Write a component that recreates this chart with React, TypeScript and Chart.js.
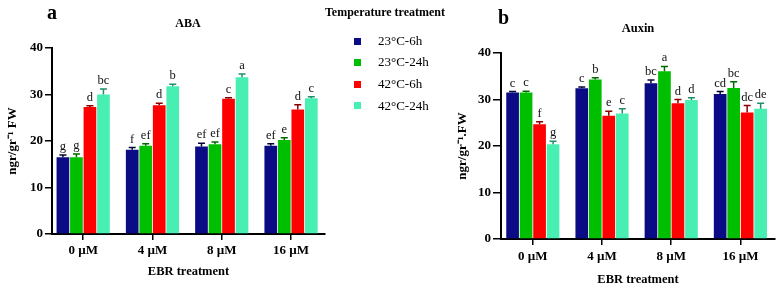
import React, { useEffect, useRef } from 'react';
import { Chart, registerables } from 'chart.js';

Chart.register(...registerables);

// ---------- data ----------
const doses = ['0 µM', '4 µM', '8 µM', '16 µM'];
const seriesNames = ['23°C-6h', '23°C-24h', '42°C-6h', '42°C-24h'];
const seriesColors = ['#0b0b85', '#00bf00', '#ff0000', '#48efb3'];
const errColors = ['#05053a', '#006a00', '#8a0000', '#1f8f6a'];

// ABA (ngr/gr-1 FW)
const aba23_6 = [16.5, 18.1, 18.8, 19.0];
const aba23_24 = [16.5, 19.0, 19.3, 20.2];
const aba42_6 = [27.3, 27.7, 29.1, 26.8];
const aba42_24 = [30.0, 31.8, 33.7, 29.2];
const abaErr23_6 = [0.5, 0.5, 0.7, 0.4];
const abaErr23_24 = [0.7, 0.4, 0.5, 0.5];
const abaErr42_6 = [0.3, 0.4, 0.2, 1.0];
const abaErr42_24 = [1.2, 0.4, 0.7, 0.3];
const abaLet23_6 = ['g', 'f', 'ef', 'ef'];
const abaLet23_24 = ['g', 'ef', 'ef', 'e'];
const abaLet42_6 = ['d', 'd', 'c', 'd'];
const abaLet42_24 = ['bc', 'b', 'a', 'c'];

// Auxin (ngr/gr-1.FW)
const aux23_6 = [31.5, 32.4, 33.5, 31.2];
const aux23_24 = [31.5, 34.3, 36.1, 32.5];
const aux42_6 = [24.7, 26.5, 29.2, 27.2];
const aux42_24 = [20.4, 27.0, 29.9, 28.0];
const auxErr23_6 = [0.2, 0.3, 0.7, 0.5];
const auxErr23_24 = [0.3, 0.4, 1.0, 1.3];
const auxErr42_6 = [0.5, 1.0, 0.8, 1.5];
const auxErr42_24 = [0.6, 1.0, 0.5, 1.2];
const auxLet23_6 = ['c', 'c', 'bc', 'cd'];
const auxLet23_24 = ['c', 'b', 'a', 'bc'];
const auxLet42_6 = ['f', 'e', 'd', 'dc'];
const auxLet42_24 = ['g', 'c', 'd', 'de'];

const yTicks = [0, 10, 20, 30, 40];

const SERIF = '"Liberation Serif", "Times New Roman", serif';

type PanelProps = {
  values: number[][];
  errors: number[][];
  letters: string[][];
  yTitle: string;
  width: number;
  height: number;
  yWidth: number;
  xHeight: number;
  padTop: number;
  padRight: number;
  xMin: number;
  xMax: number;
  yTitlePad: number;
  xTitlePad: number;
  xTickPad: number;
  yTickLen: number;
};

function makeErrPlugin(errors: number[][], letters: string[][]) {
  return {
    id: 'errLetters',
    afterDatasetsDraw(chart: any) {
      const ctx = chart.ctx;
      const ys = chart.scales.y;
      chart.data.datasets.forEach((ds: any, di: number) => {
        const meta = chart.getDatasetMeta(di);
        meta.data.forEach((bar: any, i: number) => {
          const v = ds.data[i].y;
          const top = ys.getPixelForValue(v + errors[di][i]);
          ctx.save();
          ctx.strokeStyle = errColors[di];
          ctx.lineWidth = 1.5;
          ctx.beginPath();
          ctx.moveTo(bar.x, bar.y);
          ctx.lineTo(bar.x, top);
          ctx.moveTo(bar.x - 3.5, top);
          ctx.lineTo(bar.x + 3.5, top);
          ctx.stroke();
          ctx.fillStyle = '#111';
          ctx.font = `12.5px ${SERIF}`;
          ctx.textAlign = 'center';
          ctx.textBaseline = 'alphabetic';
          ctx.fillText(letters[di][i], bar.x, top - 5);
          ctx.restore();
        });
      });
    },
  };
}

function Panel(p: PanelProps) {
  const ref = useRef<HTMLCanvasElement>(null);
  useEffect(() => {
    if (!ref.current) return;
    const tickFont = { family: SERIF, size: 13, weight: 'bold' as const };
    const chart = new Chart(ref.current, {
      type: 'bar',
      data: {
        datasets: seriesNames.map((name, si) => ({
          label: name,
          data: p.values[si].map((v, i) => ({ x: i, y: v })),
          backgroundColor: seriesColors[si],
          borderWidth: 0,
          categoryPercentage: 0.78,
          barPercentage: 0.94,
        })),
      },
      options: {
        animation: false,
        responsive: false,
        devicePixelRatio: 1,
        layout: { padding: { left: 0, right: p.padRight, top: p.padTop, bottom: 0 } },
        plugins: { legend: { display: false }, tooltip: { enabled: false }, title: { display: false } },
        scales: {
          x: {
            type: 'linear',
            min: p.xMin,
            max: p.xMax,
            offset: false,
            afterBuildTicks: (s: any) => {
              s.ticks = doses.map((_, i) => ({ value: i }));
            },
            afterFit: (s: any) => {
              s.height = p.xHeight;
            },
            ticks: {
              callback: (v: any) => doses[v as number] ?? '',
              font: tickFont,
              color: '#000',
              padding: p.xTickPad,
              autoSkip: false,
              maxRotation: 0,
            },
            grid: { drawOnChartArea: false, drawTicks: true, tickLength: 6, color: '#000', lineWidth: 1.5, offset: false },
            border: { display: true, color: '#000', width: 2 },
            title: {
              display: true,
              text: 'EBR treatment',
              color: '#000',
              font: { family: SERIF, size: 12.5, weight: 'bold' },
              padding: { top: 0, bottom: p.xTitlePad },
            },
          },
          y: {
            type: 'linear',
            min: 0,
            max: 40,
            afterBuildTicks: (s: any) => {
              s.ticks = yTicks.map((v) => ({ value: v }));
            },
            afterFit: (s: any) => {
              s.width = p.yWidth;
            },
            ticks: { font: tickFont, color: '#000', padding: 2 },
            grid: { drawOnChartArea: false, drawTicks: true, tickLength: p.yTickLen, color: '#000', lineWidth: 1.5 },
            border: { display: true, color: '#000', width: 2 },
            title: {
              display: true,
              text: p.yTitle,
              color: '#000',
              font: { family: SERIF, size: 13, weight: 'bold' },
              padding: { top: p.yTitlePad, bottom: 0 },
            },
          },
        },
      },
      plugins: [makeErrPlugin(p.errors, p.letters)],
    } as any);
    return () => chart.destroy();
  }, []);
  return <canvas ref={ref} width={p.width} height={p.height} style={{ width: p.width, height: p.height, display: 'block' }} />;
}

const txt = (
  s: string,
  cx: number,
  baseline: number,
  size: number,
  bold: boolean,
  align: 'center' | 'left' = 'center'
) => {
  const top = baseline - 0.8375 * size;
  const style: React.CSSProperties = {
    position: 'absolute',
    top,
    fontFamily: SERIF,
    fontSize: size,
    lineHeight: `${size}px`,
    fontWeight: bold ? 'bold' : 'normal',
    color: '#000',
    whiteSpace: 'nowrap',
  };
  if (align === 'center') {
    style.left = cx - 100;
    style.width = 200;
    style.textAlign = 'center';
  } else {
    style.left = cx;
  }
  return (
    <div key={s + cx} style={style}>
      {s}
    </div>
  );
};

export default function App() {
  const legendBaselines = [45, 66, 88, 109.5];
  return (
    <div style={{ position: 'fixed', left: 0, top: 0, width: 779, height: 290, background: '#fff', overflow: 'hidden' }}>
      <div style={{ position: 'absolute', left: 0, top: 0 }}>
        <Panel
          values={[aba23_6, aba23_24, aba42_6, aba42_24]}
          errors={[abaErr23_6, abaErr23_24, abaErr42_6, abaErr42_24]}
          letters={[abaLet23_6, abaLet23_24, abaLet42_6, abaLet42_24]}
          yTitle="ngr/gr⁻¹ FW"
          width={340}
          height={290}
          yWidth={52}
          xHeight={56}
          padTop={48}
          padRight={15}
          xMin={-0.45}
          xMax={3.49}
          yTitlePad={5}
          xTitlePad={10.5}
          xTickPad={3}
          yTickLen={7}
        />
      </div>
      <div style={{ position: 'absolute', left: 440, top: 0 }}>
        <Panel
          values={[aux23_6, aux23_24, aux42_6, aux42_24]}
          errors={[auxErr23_6, auxErr23_24, auxErr42_6, auxErr42_24]}
          letters={[auxLet23_6, auxLet23_24, auxLet42_6, auxLet42_24]}
          yTitle="ngr/gr⁻¹.FW"
          width={339}
          height={290}
          yWidth={61}
          xHeight={51}
          padTop={53}
          padRight={4}
          xMin={-0.46}
          xMax={3.5}
          yTitlePad={14.8}
          xTitlePad={2.8}
          xTickPad={4}
          yTickLen={8}
        />
      </div>
      {txt('a', 52, 19, 20, true)}
      {txt('ABA', 188, 26.7, 12, true)}
      {txt('b', 503.5, 23.3, 20, true)}
      {txt('Auxin', 638, 32.3, 12.5, true)}
      {txt('Temperature treatment', 385, 16.5, 12, true)}
      {seriesNames.map((n, i) => (
        <div
          key={'sq' + i}
          style={{
            position: 'absolute',
            left: 354,
            top: legendBaselines[i] - 4 - 3.5,
            width: 7,
            height: 7,
            background: seriesColors[i],
          }}
        />
      ))}
      {seriesNames.map((n, i) => txt(n, 378, legendBaselines[i], 13, false, 'left'))}
    </div>
  );
}
